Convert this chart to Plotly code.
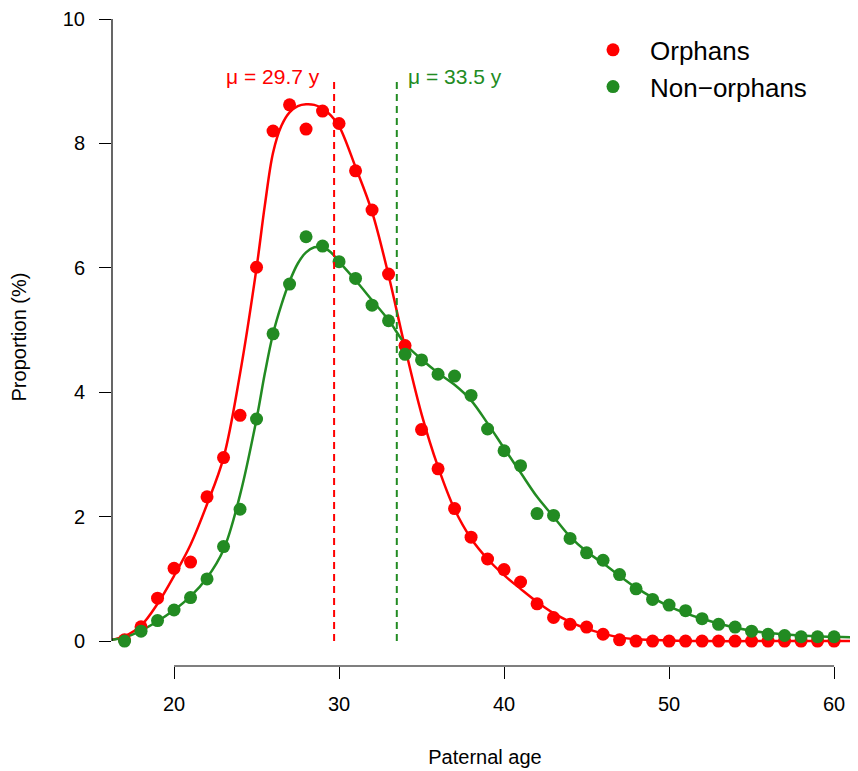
import plotly.graph_objects as go

# ---- data ----
ages = list(range(17, 61))
orphans = [0.02, 0.23, 0.69, 1.17, 1.27, 2.32, 2.95, 3.63, 6.01, 8.20, 8.62, 8.23, 8.52, 8.32,
           7.56, 6.93, 5.90, 4.75, 3.40, 2.77, 2.13, 1.67, 1.32, 1.15, 0.95, 0.60, 0.38, 0.27,
           0.225, 0.11, 0.02, 0.0, 0.0, 0.0, 0.0, 0.0, 0.0, 0.0, 0.0, 0.0, 0.0, 0.0, 0.0, 0.0]
non_orphans = [0.0, 0.16, 0.33, 0.50, 0.70, 1.00, 1.52, 2.12, 3.57, 4.94, 5.74, 6.50, 6.35, 6.10,
               5.83, 5.40, 5.15, 4.61, 4.52, 4.29, 4.26, 3.95, 3.41, 3.06, 2.82, 2.05, 2.02, 1.65,
               1.42, 1.30, 1.07, 0.84, 0.67, 0.58, 0.49, 0.36, 0.27, 0.225, 0.16, 0.11, 0.09, 0.07,
               0.07, 0.07]

fit_age = [16.2, 17, 18, 19, 20, 21, 22, 23, 24, 25, 25.5, 26, 26.5, 27, 27.5, 28, 28.5, 29, 29.5,
           30, 31, 32, 33, 34, 35, 36, 37, 38, 39, 40, 41, 42, 43, 44, 45, 46, 47, 48, 50, 52, 55,
           58, 61.5]
fit_orphans = [0.02, 0.08, 0.25, 0.60, 1.05, 1.55, 2.20, 2.95, 4.30, 6.00, 7.00, 7.85, 8.28, 8.50,
               8.60, 8.63, 8.62, 8.56, 8.45, 8.28, 7.62, 6.90, 5.88, 4.72, 3.65, 2.80, 2.12, 1.65,
               1.32, 1.06, 0.84, 0.63, 0.45, 0.31, 0.20, 0.12, 0.06, 0.03, 0.01, 0.0, 0.0, 0.0, 0.0]
fit_non_orphans = [0.02, 0.06, 0.17, 0.32, 0.50, 0.72, 1.02, 1.47, 2.35, 3.57, 4.30, 4.94, 5.40,
                   5.78, 6.07, 6.25, 6.33, 6.33, 6.25, 6.10, 5.80, 5.48, 5.16, 4.78, 4.53, 4.31,
                   4.12, 3.87, 3.50, 3.10, 2.71, 2.32, 2.00, 1.68, 1.44, 1.25, 1.05, 0.86, 0.56,
                   0.36, 0.165, 0.09, 0.06]

mean_orphans = 29.7
mean_non_orphans = 33.5
mean_line_top = 9.0
x_ticks = [20, 30, 40, 50, 60]
y_ticks = [0, 2, 4, 6, 8, 10]

RED = "#FF0000"
GREEN = "#228B22"
FONT = "Liberation Sans, Arial, Helvetica, sans-serif"

fig = go.Figure()

fig.add_trace(go.Scatter(x=fit_age, y=fit_orphans, mode="lines", line=dict(color=RED, width=2.5, shape="spline"),
                         showlegend=False, hoverinfo="skip"))
fig.add_trace(go.Scatter(x=fit_age, y=fit_non_orphans, mode="lines", line=dict(color=GREEN, width=2.5, shape="spline"),
                         showlegend=False, hoverinfo="skip"))
fig.add_trace(go.Scatter(x=ages, y=orphans, mode="markers", name="Orphans",
                         marker=dict(color=RED, size=13, line=dict(width=0))))
fig.add_trace(go.Scatter(x=ages, y=non_orphans, mode="markers", name="Non\u2212orphans",
                         marker=dict(color=GREEN, size=13, line=dict(width=0))))

# mean lines
fig.add_trace(go.Scatter(x=[mean_orphans, mean_orphans], y=[0, mean_line_top], mode="lines",
                         line=dict(color=RED, width=2, dash="7px,5px"), showlegend=False, hoverinfo="skip"))
fig.add_trace(go.Scatter(x=[mean_non_orphans, mean_non_orphans], y=[0, mean_line_top], mode="lines",
                         line=dict(color=GREEN, width=2, dash="7px,5px"), showlegend=False, hoverinfo="skip"))

fig.add_annotation(x=mean_orphans, y=9.08, text="\u03bc = %.1f y" % mean_orphans, showarrow=False,
                   xanchor="right", yanchor="middle", xshift=-12, font=dict(color=RED, size=21, family=FONT))
fig.add_annotation(x=mean_non_orphans, y=9.08, text="\u03bc = %.1f y" % mean_non_orphans, showarrow=False,
                   xanchor="left", yanchor="middle", xshift=9, font=dict(color=GREEN, size=21, family=FONT))

# axis lines (R style, detached to tick range)
fig.add_shape(type="line", xref="x", yref="paper", x0=x_ticks[0], x1=x_ticks[-1], y0=0, y1=0,
              line=dict(color="black", width=1.2))
fig.add_shape(type="line", xref="paper", yref="y", x0=0, x1=0, y0=y_ticks[0], y1=y_ticks[-1],
              line=dict(color="black", width=1.2))

fig.update_layout(
    width=850, height=763,
    margin=dict(l=104, r=0, t=0, b=105, autoexpand=False),
    plot_bgcolor="white", paper_bgcolor="white",
    font=dict(family=FONT, color="black"),
    xaxis=dict(range=[16.24, 61.45], tickvals=x_ticks, ticks="outside", ticklen=12, tickwidth=1.2,
               tickcolor="black", showgrid=False, zeroline=False, showline=False, automargin=False,
               tickfont=dict(size=20), ticklabelstandoff=8,
               title=dict(text="Paternal age", font=dict(size=20), standoff=35)),
    yaxis=dict(range=[-0.4, 10.177], tickvals=y_ticks, ticks="outside", ticklen=12, tickwidth=1.2,
               tickcolor="black", showgrid=False, zeroline=False, showline=False, automargin=False,
               tickfont=dict(size=20), ticklabelstandoff=10,
               title=dict(text="Proportion (%)", font=dict(size=20), standoff=30)),
    legend=dict(x=0.622, y=0.972, xanchor="left", yanchor="top", font=dict(size=26),
                bgcolor="rgba(0,0,0,0)", itemwidth=64, tracegroupgap=0),
)

fig.write_html("out.html")
